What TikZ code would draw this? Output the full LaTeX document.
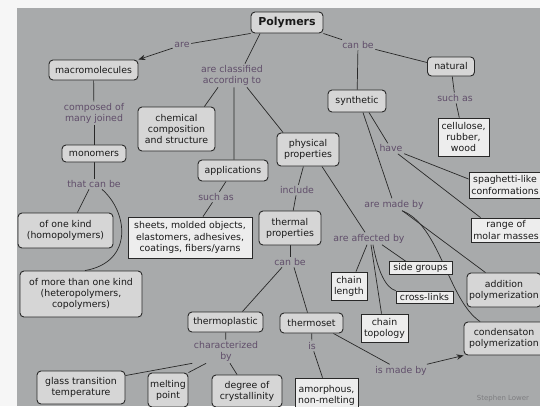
\documentclass[tikz,border=0pt]{standalone}
\usepackage{fontspec}
\setmainfont{DejaVu Sans}
\usetikzlibrary{arrows.meta}
\definecolor{bgc}{RGB}{168,170,171}
\definecolor{pagec}{RGB}{246,246,246}
\definecolor{rfill}{RGB}{214,214,214}
\definecolor{sfill}{RGB}{237,237,237}
\definecolor{linec}{RGB}{40,40,40}
\definecolor{txtc}{RGB}{25,25,25}
\definecolor{labc}{RGB}{96,78,106}
\definecolor{signc}{RGB}{125,125,128}
\newcommand{\mapfont}{\fontsize{9.4}{11.2}\selectfont}
\pgfdeclarelayer{bglayer}
\pgfdeclarelayer{edgelayer}
\pgfsetlayers{bglayer,edgelayer,main}
\begin{document}
\begin{tikzpicture}[x=1bp,y=-1bp,
 rbox/.style={draw=linec, line width=0.9pt, rounded corners=4pt, fill=rfill, text=txtc, font=\mapfont, align=center, inner sep=1pt},
 sbox/.style={draw=linec, line width=0.8pt, fill=sfill, text=txtc, font=\mapfont, align=center, inner sep=1pt},
 boxsize/.style 2 args={minimum width=#1bp, minimum height=#2bp},
 lab/.style={text=labc, font=\mapfont, align=center, inner sep=1.5pt},
 conn/.style={draw=linec, line width=0.7pt},
 arr/.style={conn, -{Stealth[length=7pt,width=5.5pt]}}]

\useasboundingbox (0,0) rectangle (540,406);
\begin{pgfonlayer}{bglayer}
\fill[pagec] (0,0) rectangle (540,406);
\fill[bgc] (17,8) rectangle (540,406);
\end{pgfonlayer}

\node[rbox, boxsize={72}{21}, font=\fontsize{11}{13}\selectfont\bfseries] (poly) at (287,22.5) {Polymers};
\node[lab] (are) at (182,45) {are};
\node[rbox, boxsize={89}{20}] (macro) at (93.5,70) {macromolecules};
\node[lab] (cls) at (232,75.5) {are classified\\according to};
\node[lab] (canbeA) at (358,45) {can be};
\node[rbox, boxsize={47}{19}] (natural) at (451,66.5) {natural};
\node[rbox, boxsize={58}{22}] (synth) at (357,101) {synthetic};
\node[lab] (suchasA) at (455,98) {such as};
\node[sbox, boxsize={51}{38}] (cell) at (463.5,137) {cellulose,\\rubber,\\wood};
\node[lab] (comp) at (94,113.5) {composed of\\many joined};
\node[rbox, boxsize={64}{17}] (mono) at (94,153.5) {monomers};
\node[lab] (thatcan) at (94,184) {that can be};
\node[rbox, boxsize={77}{44}] (chem) at (176.5,129) {chemical\\composition\\and structure};
\node[rbox, boxsize={70}{21}] (appl) at (233,170.5) {applications};
\node[lab] (suchasB) at (216,197) {such as};
\node[sbox, boxsize={124}{41}] (sheets) at (190,237.5) {sheets, molded objects,\\elastomers, adhesives,\\coatings, fibers/yarns};
\node[rbox, boxsize={62}{33}] (phys) at (308,149.5) {physical\\properties};
\node[lab] (include) at (297,190) {include};
\node[rbox, boxsize={62}{34}] (therm) at (290,228) {thermal\\properties};
\node[lab] (canbeB) at (290,262) {can be};
\node[lab] (affected) at (369,238.5) {are affected by};
\node[lab] (madeby) at (394,204.5) {are made by};
\node[lab] (have) at (391,148.5) {have};
\node[sbox, boxsize={72}{26}] (spag) at (505,185) {spaghetti-like\\conformations};
\node[sbox, boxsize={70}{24}] (range) at (506,230) {range of\\molar masses};
\node[sbox, boxsize={63}{13}] (side) at (420.5,268) {side groups};
\node[sbox, boxsize={36}{28}] (chainlen) at (349,286) {chain\\length};
\node[sbox, boxsize={57}{12}] (cross) at (424.5,297) {cross-links};
\node[sbox, boxsize={47}{28}] (topo) at (384.5,328) {chain\\topology};
\node[rbox, boxsize={74}{34}] (addit) at (504,290) {addition\\polymerization};
\node[rbox, boxsize={80}{33}] (cond) at (504,338.5) {condensaton\\polymerization};
\node[rbox, boxsize={63}{20}] (tset) at (311.5,323) {thermoset};
\node[lab] (is) at (312,346) {is};
\node[sbox, boxsize={63}{34}] (amor) at (326.5,395) {amorphous,\\non-melting};
\node[lab] (ismade) at (401,370.5) {is made by};
\node[rbox, boxsize={95}{35}] (one) at (65.5,230.5) {of one kind\\(homopolymers)};
\node[rbox, boxsize={122}{46}] (more) at (81,294) {of more than one kind\\(heteropolymers,\\copolymers)};
\node[rbox, boxsize={75}{20}] (tplast) at (225.5,322) {thermoplastic};
\node[lab] (charby) at (226,351.5) {characterized\\by};
\node[rbox, boxsize={88}{33}] (glass) at (81,387.5) {glass transition\\temperature};
\node[rbox, boxsize={40}{34}] (melt) at (168,390) {melting\\point};
\node[rbox, boxsize={70}{32}] (degree) at (247,391) {degree of\\crystallinity};
\node[text=signc, font=\fontsize{7}{8}\selectfont, inner sep=0pt] (sign) at (503,399) {Stephen Lower};

\begin{pgfonlayer}{edgelayer}
\draw[conn] (poly.south west) -- (are);
\draw[arr] (are) -- (macro.north east);
\draw[conn] ([xshift=-27pt]poly.south) -- ([xshift=13pt]cls.north);
\draw[conn] ([xshift=-14pt]cls.south) -- ([xshift=28pt]chem.north);
\draw[conn] ([xshift=2pt]cls.south) -- ([xshift=1pt]appl.north);
\draw[conn] ([xshift=15pt]cls.south) -- ([xshift=-25pt]phys.north);
\draw[conn] (poly.south east) -- (canbeA);
\draw[conn] (canbeA) -- ([yshift=4pt]natural.west);
\draw[conn] (canbeA) -- (synth);
\draw[conn] (natural) -- (suchasA);
\draw[conn] (suchasA) -- (cell);
\draw[conn] (macro) -- (comp);
\draw[conn] (comp) -- (mono);
\draw[conn] (mono) -- (thatcan);
\draw[conn] ([xshift=-5pt]thatcan.south) -- ([xshift=12pt]one.north);
\draw[conn] ([xshift=8pt]thatcan.south) .. controls (128,212) and (134,262) .. ([xshift=4pt]more.north);
\draw[conn] (appl) -- (suchasB);
\draw[conn] (suchasB) -- ([xshift=13pt]sheets.north);
\draw[conn] (phys) -- (include);
\draw[conn] (include) -- (therm);
\draw[conn] ([xshift=14pt]phys.south) -- ([xshift=-4pt]affected.north);
\draw[conn] (therm) -- (canbeB);
\draw[conn] ([xshift=-8pt]canbeB.south) -- ([xshift=17pt]tplast.north);
\draw[conn] ([xshift=4pt]canbeB.south) -- ([xshift=-4pt]tset.north);
\draw[conn] (tplast) -- (charby);
\draw[conn] (charby.south west) -- ([yshift=12pt]glass.east);
\draw[conn] ([xshift=-20pt]charby.south) -- (melt.north east);
\draw[conn] ([xshift=4pt]charby.south) -- ([xshift=-10pt]degree.north);
\draw[conn] (tset) -- (is);
\draw[conn] (is) -- ([xshift=-4pt]amor.north);
\draw[conn] ([xshift=22pt]tset.south) -- (ismade);
\draw[arr] (ismade) -- (cond.south west);
\draw[conn] ([xshift=12pt]synth.south) -- (have);
\draw[conn] (have) -- ([yshift=6pt]spag.west);
\draw[conn] (have) -- ([xshift=10pt]range.north west);
\draw[conn] ([xshift=6pt]synth.south) -- (madeby);
\draw[conn] (madeby) -- ([xshift=19pt]addit.north west);
\draw[conn] ([xshift=8pt]madeby.south) .. controls (440,225) and (448,300) .. ([xshift=-24pt]cond.north);
\draw[conn] ([xshift=-2pt]affected.south) -- ([xshift=7pt]chainlen.north);
\draw[conn] ([xshift=13pt]affected.south) -- ([xshift=-15pt]side.north);
\draw[conn] ([xshift=4pt]affected.south) .. controls (378,272) and (386,288) .. (cross.north west);
\draw[conn] ([xshift=2pt]affected.south) -- ([xshift=-3pt]topo.north);
\end{pgfonlayer}
\end{tikzpicture}
\end{document}
